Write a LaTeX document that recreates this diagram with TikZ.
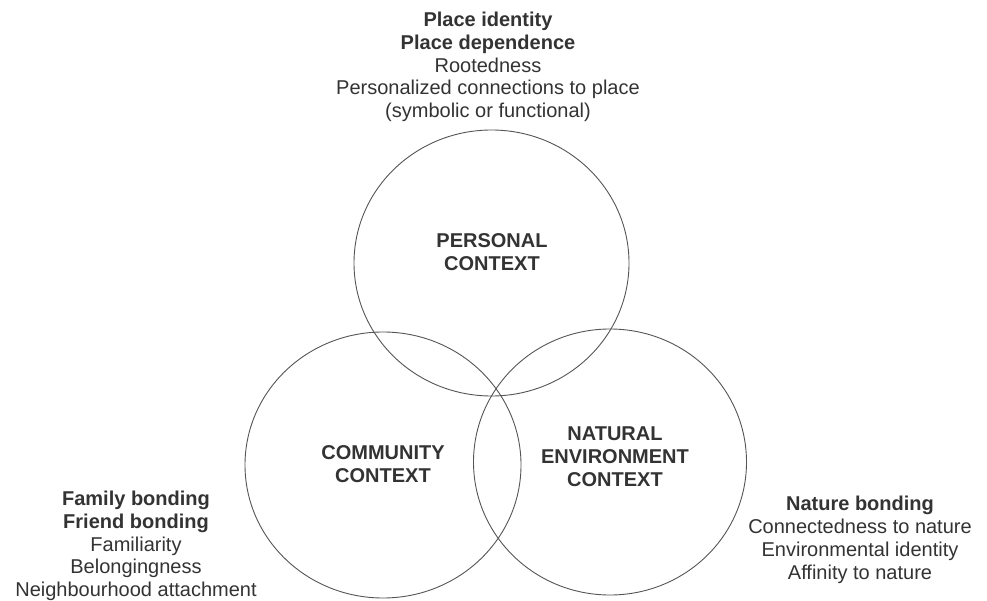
\documentclass[tikz,border=0pt]{standalone}
\usepackage{fontspec}
\setmainfont{Liberation Sans}
\definecolor{txt}{HTML}{333333}
\definecolor{ring}{HTML}{555555}
\begin{document}
\begin{tikzpicture}[x=1pt,y=-1pt,
  ctx/.style={draw=ring, line width=0.9pt},
  lbl/.style={align=center, text=txt, font=\fontsize{20}{22.8}\selectfont\bfseries, inner sep=0pt},
  info/.style={align=center, text=txt, font=\fontsize{20}{22.8}\selectfont, inner sep=0pt}]
\useasboundingbox[fill=white] (0,0) rectangle (987,601);
\draw[ctx] (491.5,263) ellipse [x radius=137.5, y radius=133];
\draw[ctx] (383,465) ellipse [x radius=138, y radius=133];
\draw[ctx] (610,462) ellipse [x radius=136.5, y radius=133];
\node[lbl] (personal) at (492,252) {PERSONAL\\CONTEXT};
\node[lbl] (community) at (383,464) {COMMUNITY\\CONTEXT};
\node[lbl] (nature) at (615,456.5) {NATURAL\\ENVIRONMENT\\CONTEXT};
\node[info] (toptext) at (488,67) {\textbf{Place identity}\\\textbf{Place dependence}\\Rootedness\\Personalized connections to place\\(symbolic or functional)};
\node[info] (lefttext) at (136,546) {\textbf{Family bonding}\\\textbf{Friend bonding}\\Familiarity\\Belongingness\\Neighbourhood attachment};
\node[info] (righttext) at (860,540) {\textbf{Nature bonding}\\Connectedness to nature\\Environmental identity\\Affinity to nature};
\end{tikzpicture}
\end{document}
